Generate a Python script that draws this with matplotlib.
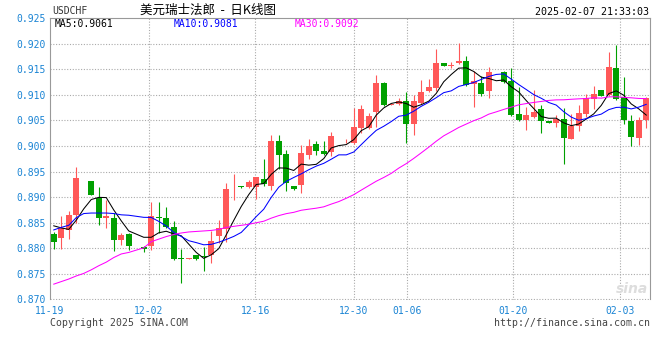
import numpy as np
import matplotlib.pyplot as plt

# USD/CHF daily candles, one slot per chart day (slot 11 has no candle)
opens = [0.8828, 0.8821, 0.8836, 0.8865, 0.8931, 0.8932, 0.8899, 0.8860, 0.8860, 0.8816,
         0.8828, None, 0.8803, 0.8805, 0.8861, 0.8859, 0.8841, 0.8781, 0.8780, 0.8786,
         0.8784, 0.8786, 0.8825, 0.8837, 0.8919, 0.8922, 0.8919, 0.8919, 0.8935, 0.8922,
         0.9010, 0.8984, 0.8922, 0.8924, 0.8982, 0.9004, 0.8990, 0.8988, 0.9009, 0.9009,
         0.9005, 0.9036, 0.9036, 0.9067, 0.9124, 0.9081, 0.9082, 0.9087, 0.9043, 0.9085,
         0.9108, 0.9114, 0.9163, 0.9157, 0.9162, 0.9166, 0.9121, 0.9124, 0.9108, 0.9144,
         0.9145, 0.9127, 0.9063, 0.9051, 0.9057, 0.9072, 0.9049, 0.9044, 0.9053, 0.9014,
         0.9039, 0.9063, 0.9091, 0.9110, 0.9100, 0.9153, 0.9095, 0.9049, 0.9015, 0.9050]
highs = [0.8831, 0.8863, 0.8872, 0.8958, 0.8932, 0.8932, 0.8919, 0.8894, 0.8869, 0.8829,
         0.8829, None, 0.8804, 0.8891, 0.8890, 0.8880, 0.8853, 0.8799, 0.8781, 0.8787,
         0.8803, 0.8833, 0.8855, 0.8927, 0.8945, 0.8922, 0.8934, 0.8940, 0.8975, 0.9022,
         0.9021, 0.8992, 0.8922, 0.9002, 0.9013, 0.9010, 0.9010, 0.9027, 0.9010, 0.9013,
         0.9074, 0.9080, 0.9064, 0.9139, 0.9126, 0.9082, 0.9093, 0.9106, 0.9100, 0.9129,
         0.9131, 0.9189, 0.9163, 0.9164, 0.9201, 0.9176, 0.9147, 0.9137, 0.9155, 0.9145,
         0.9146, 0.9153, 0.9116, 0.9076, 0.9110, 0.9080, 0.9049, 0.9061, 0.9074, 0.9063,
         0.9080, 0.9101, 0.9117, 0.9110, 0.9184, 0.9198, 0.9134, 0.9061, 0.9057, 0.9096]
lows = [0.8799, 0.8799, 0.8818, 0.8850, 0.8931, 0.8904, 0.8846, 0.8840, 0.8795, 0.8806,
        0.8797, None, 0.8793, 0.8797, 0.8829, 0.8840, 0.8778, 0.8733, 0.8780, 0.8778,
        0.8756, 0.8771, 0.8810, 0.8813, 0.8894, 0.8918, 0.8918, 0.8896, 0.8922, 0.8914,
        0.8955, 0.8913, 0.8914, 0.8909, 0.8975, 0.8982, 0.8982, 0.8981, 0.9009, 0.9005,
        0.9004, 0.9025, 0.9033, 0.9038, 0.9078, 0.9081, 0.9080, 0.9005, 0.9022, 0.9083,
        0.9105, 0.9107, 0.9157, 0.9152, 0.9160, 0.9117, 0.9077, 0.9098, 0.9094, 0.9144,
        0.9123, 0.9058, 0.9049, 0.9031, 0.9055, 0.9025, 0.9044, 0.9037, 0.8965, 0.9013,
        0.9030, 0.9057, 0.9072, 0.9098, 0.9098, 0.9090, 0.9043, 0.9000, 0.9002, 0.9035]
closes = [0.8813, 0.8839, 0.8865, 0.8937, 0.8932, 0.8904, 0.8860, 0.8863, 0.8816, 0.8826,
          0.8805, None, 0.8798, 0.8863, 0.8860, 0.8841, 0.8779, 0.8780, 0.8781, 0.8779,
          0.8783, 0.8814, 0.8840, 0.8916, 0.8920, 0.8919, 0.8930, 0.8939, 0.8925, 0.9010,
          0.8982, 0.8928, 0.8916, 0.8987, 0.9000, 0.8990, 0.8984, 0.9020, 0.9010, 0.9010,
          0.9038, 0.9072, 0.9059, 0.9123, 0.9080, 0.9082, 0.9087, 0.9043, 0.9087, 0.9105,
          0.9116, 0.9163, 0.9157, 0.9158, 0.9167, 0.9119, 0.9127, 0.9102, 0.9145, 0.9145,
          0.9126, 0.9061, 0.9051, 0.9061, 0.9067, 0.9048, 0.9044, 0.9052, 0.9015, 0.9040,
          0.9064, 0.9093, 0.9102, 0.9098, 0.9155, 0.9091, 0.9050, 0.9017, 0.9050, 0.9094]

ma5_head = [0.8844, 0.8840, 0.8837, 0.8855]
ma10_head = [0.8836, 0.8841, 0.8845, 0.8860, 0.8868, 0.8869, 0.8869, 0.8869, 0.8868]
ma30_head = [0.8730, 0.8735, 0.8740, 0.8746, 0.8751, 0.8758, 0.8766, 0.8773, 0.8782, 0.8789,
             0.8792, 0.8801, 0.8813, 0.8818, 0.8823, 0.8827, 0.8830, 0.8832, 0.8833, 0.8834,
             0.8835, 0.8837, 0.8841, 0.8843, 0.8845, 0.8847, 0.8850, 0.8853, 0.8859]
ma_last = [0.9061, 0.9081, 0.9092]

tick_slots = [0, 13, 27, 40, 47, 61, 75]
tick_labels = ["11-19", "12-02", "12-16", "12-30", "01-06", "01-20", "02-03"]

RED = "#ff5858"
GREEN = "#00a000"
BLUE_TXT = "#1a84d4"
GRID = "#aaaaaa"
MONO = "DejaVu Sans Mono"

idx = [i for i, c in enumerate(closes) if c is not None]
o = np.array([opens[i] for i in idx])
h = np.array([highs[i] for i in idx])
l = np.array([lows[i] for i in idx])
c = np.array([closes[i] for i in idx])
x = np.array(idx)


def ma(head, n):
    tail = np.convolve(c, np.ones(n) / n, mode="valid")
    return np.concatenate([head, tail])


W, H = 660, 360
fig = plt.figure(figsize=(6.6, 3.6), dpi=100)
ax = fig.add_axes([50 / W, 1 - 299.5 / H, 600 / W, 281.4 / H])
ax.set_xlim(-0.5, 79.5)
ax.set_ylim(0.870, 0.925)

yt = np.arange(0.870, 0.9251, 0.005)
ax.set_yticks(yt)
ax.set_yticklabels([f"{v:.3f}" for v in yt], family=MONO, fontsize=7, color=BLUE_TXT)
for v in yt[:-1]:
    ax.axhline(v, color=GRID, lw=0.8, ls=(0, (1, 1.5)), zorder=0)

# sina places its date labels on a slightly wider scale than the candles
tx = [s * 80 / 79 - 0.5 for s in tick_slots]
ax.set_xticks(tx)
ax.set_xticklabels(tick_labels, family=MONO, fontsize=7, color=BLUE_TXT)
for t in tx[1:]:
    ax.axvline(t, color=GRID, lw=0.8, ls=(0, (1, 1.5)), zorder=0)
ax.tick_params(length=0, pad=3)
ax.tick_params(axis="x", pad=5)

for side in ["left", "right", "top"]:
    ax.spines[side].set_color("#999999")
ax.spines["bottom"].set_visible(False)

up = c >= o
col = np.where(up, RED, GREEN)
ax.vlines(x, l, h, colors=col, lw=0.8, zorder=2)
body = np.maximum(np.abs(c - o), 0.00012)
ax.bar(x, body, bottom=np.minimum(o, c), width=0.8, color=col, lw=0, zorder=3)

ax.plot(x, ma(ma5_head, 5), color="black", lw=0.75, zorder=4)
ax.plot(x, ma(ma10_head, 10), color="#0000ff", lw=0.75, zorder=4)
ax.plot(x, ma(ma30_head, 30), color="#ff00ff", lw=0.75, zorder=4)


def px(xp, yp, s, **kw):
    fig.text(xp / W, 1 - yp / H, s, va="center", **kw)


px(55, 23.7, f"MA5:{ma_last[0]:.4f}", family=MONO, fontsize=7, color="black")
px(174, 23.7, f"MA10:{ma_last[1]:.4f}", family=MONO, fontsize=7, color="#0000ff")
px(295, 23.7, f"MA30:{ma_last[2]:.4f}", family=MONO, fontsize=7, color="#ff00ff")

px(52, 11.5, "USDCHF", family=MONO, fontsize=7, color="#333333")
px(140, 10, "美元瑞士法郎  -  日K线图", family=["Noto Sans CJK SC", "DejaVu Sans"],
   fontsize=9, color="black")
px(649, 12, "2025-02-07 21:33:03", family=MONO, fontsize=7.2, color="black", ha="right")
px(50, 323, "Copyright 2025 SINA.COM", family=MONO, fontsize=7.1, color="#444444")
px(650, 323, "http://finance.sina.com.cn", family=MONO, fontsize=7.1, color="#444444", ha="right")
px(632, 289, "sina", fontsize=10, color="#dddddd", weight="bold", style="italic", ha="center")

fig.savefig("out.png", dpi=100)
